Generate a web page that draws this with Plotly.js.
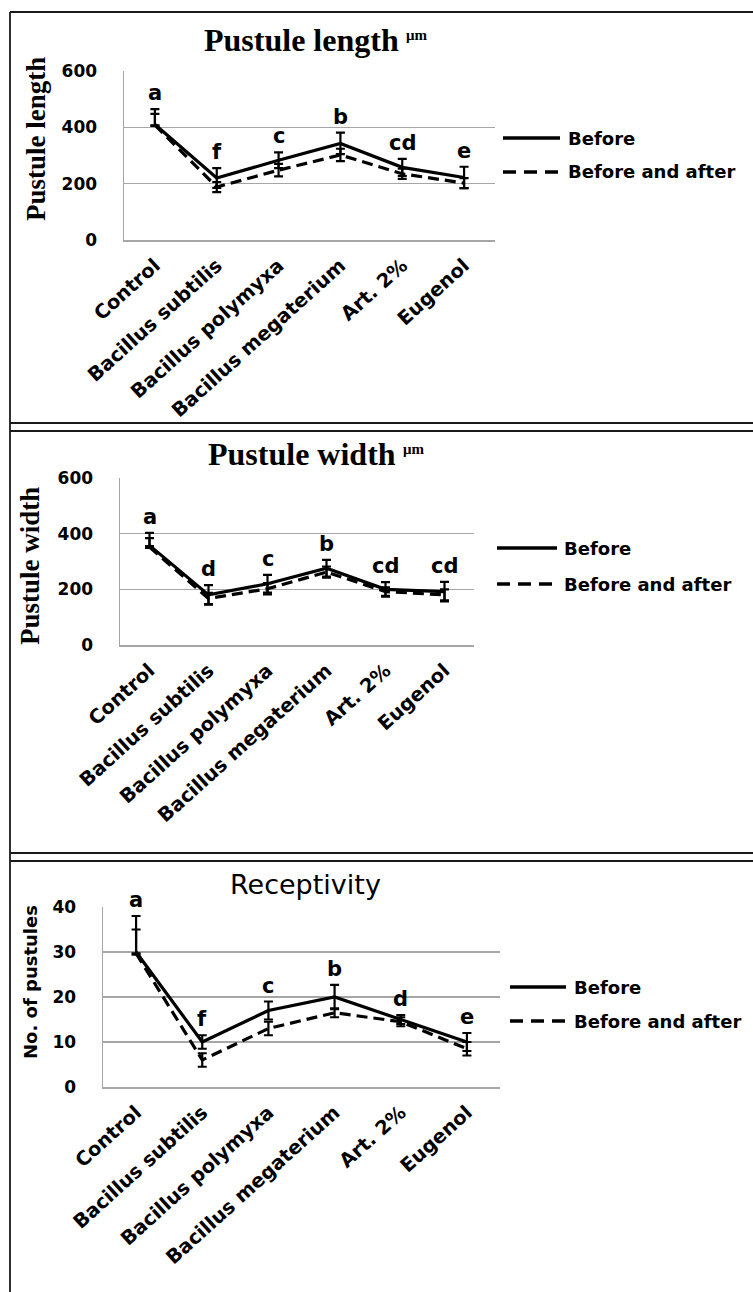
<!DOCTYPE html>
<html>
<head>
<meta charset="utf-8">
<script src="https://cdn.plot.ly/plotly-3.0.1.min.js"></script>
<style>html,body{margin:0;padding:0;background:#fff;}#chart{width:753px;height:1292px;}</style>
</head>
<body>
<div id="chart"></div>
<script>
// ---- data ----
const categories = ['Control', 'Bacillus subtilis', 'Bacillus polymyxa', 'Bacillus megaterium', 'Art. 2%', 'Eugenol'];
const seriesNames = ['Before', 'Before and after'];

const lengthBefore         = [410, 220, 283, 343, 258, 222];
const lengthBeforeErr      = [55, 35, 28, 38, 30, 38];
const lengthBeforeErrMinus = [3, 35, 28, 38, 30, 38];
const lengthAfter          = [408, 188, 248, 302, 235, 202];
const lengthAfterErr       = [40, 18, 22, 22, 18, 18];
const lengthAfterErrMinus  = [3, 18, 22, 22, 18, 18];
const lengthLetters        = ['a', 'f', 'c', 'b', 'cd', 'e'];

const widthBefore          = [358, 180, 220, 276, 200, 192];
const widthBeforeErr       = [45, 35, 32, 30, 26, 35];
const widthBeforeErrMinus  = [3, 35, 32, 30, 26, 35];
const widthAfter           = [352, 167, 202, 262, 192, 180];
const widthAfterErr        = [32, 20, 20, 20, 15, 20];
const widthAfterErrMinus   = [3, 20, 20, 20, 15, 20];
const widthLetters         = ['a', 'd', 'c', 'b', 'cd', 'cd'];

const recepBefore          = [30, 10, 17, 20, 15, 10];
const recepBeforeErr       = [8, 1.5, 2, 2.7, 1, 2];
const recepBeforeErrMinus  = [0.3, 1.5, 2, 2.7, 1, 2];
const recepAfter           = [29.7, 6, 13, 16.5, 14.5, 8.5];
const recepAfterErr        = [5.3, 1.5, 1.5, 1, 1, 1.5];
const recepAfterErrMinus   = [0.3, 1.5, 1.5, 1, 1, 1.5];
const recepLetters         = ['a', 'f', 'c', 'b', 'd', 'e'];

// ---- layout helpers ----
const W = 753, H = 1292;
const px = x => x / W;
const py = y => 1 - y / H;
const SANS = 'DejaVu Sans';
const SERIF = 'Liberation Serif';

const panels = [
  {before: lengthBefore, beforeErr: lengthBeforeErr, beforeErrMinus: lengthBeforeErrMinus,
   after: lengthAfter, afterErr: lengthAfterErr, afterErrMinus: lengthAfterErrMinus, letters: lengthLetters,
   x0: 124, x1: 495, yTop: 71, yBot: 240, range: [0, 600], dtick: 200,
   title: 'Pustule length', titleSerif: true, titleRight: 401, titleY: 40, unit: true,
   ytitle: 'Pustule length', ytitleSerif: true, ytX: 36, ytY: 139,
   leg: {lx0: 503, lx1: 560, tx: 566, y1: 138, y2: 172}},
  {before: widthBefore, beforeErr: widthBeforeErr, beforeErrMinus: widthBeforeErrMinus,
   after: widthAfter, afterErr: widthAfterErr, afterErrMinus: widthAfterErrMinus, letters: widthLetters,
   x0: 120, x1: 474, yTop: 478, yBot: 645, range: [0, 600], dtick: 200,
   title: 'Pustule width', titleSerif: true, titleRight: 398, titleY: 454, unit: true,
   ytitle: 'Pustule width', ytitleSerif: true, ytX: 30, ytY: 566,
   leg: {lx0: 497, lx1: 557, tx: 562, y1: 548, y2: 584}},
  {before: recepBefore, beforeErr: recepBeforeErr, beforeErrMinus: recepBeforeErrMinus,
   after: recepAfter, afterErr: recepAfterErr, afterErrMinus: recepAfterErrMinus, letters: recepLetters,
   x0: 103, x1: 500, yTop: 907, yBot: 1087, range: [0, 40], dtick: 10,
   title: 'Receptivity', titleSerif: false, titleCenter: 305, titleY: 884, unit: false,
   ytitle: 'No. of pustules', ytitleSerif: false, ytX: 30, ytY: 982,
   leg: {lx0: 510, lx1: 566, tx: 572, y1: 987, y2: 1021}}
];

const traces = [];
const annotations = [];
const shapes = [];
const layout = {
  width: W, height: H,
  margin: {l: 0, r: 0, t: 0, b: 0},
  paper_bgcolor: '#ffffff', plot_bgcolor: '#ffffff',
  showlegend: false,
  font: {family: SANS, color: '#000'}
};

panels.forEach((p, i) => {
  const sfx = i === 0 ? '' : String(i + 1);
  const xa = 'x' + sfx, ya = 'y' + sfx;
  layout['xaxis' + sfx] = {
    domain: [px(p.x0), px(p.x1)], anchor: ya, type: 'category',
    range: [-0.5, 5.5], showgrid: false, zeroline: false,
    showline: true, linecolor: '#a6a6a6', linewidth: 1.5,
    ticks: '', tickangle: -42, ticklabelstandoff: 5,
    tickfont: {family: SANS, size: 19.5, weight: 700, color: '#000'},
    fixedrange: true
  };
  layout['yaxis' + sfx] = {
    domain: [py(p.yBot), py(p.yTop)], anchor: xa,
    range: p.range, dtick: p.dtick, tick0: 0,
    showgrid: true, gridcolor: '#a6a6a6', gridwidth: 1.5,
    zeroline: false, showline: true, linecolor: '#a6a6a6', linewidth: 1.5,
    ticks: '', ticklabelstandoff: 22,
    tickfont: {family: SANS, size: 17, weight: 700, color: '#000'},
    fixedrange: true
  };
  // dashed series
  traces.push({
    type: 'scatter', mode: 'lines', name: seriesNames[1], x: categories, y: p.after,
    xaxis: xa, yaxis: ya,
    line: {color: '#000', width: 3.2, dash: '11px,6px'},
    error_y: {type: 'data', symmetric: false, array: p.afterErr, arrayminus: p.afterErrMinus,
              visible: true, color: '#000', thickness: 2.2, width: 4.5}
  });
  // solid series
  traces.push({
    type: 'scatter', mode: 'lines', name: seriesNames[0], x: categories, y: p.before,
    xaxis: xa, yaxis: ya,
    line: {color: '#000', width: 3.2},
    error_y: {type: 'data', symmetric: false, array: p.beforeErr, arrayminus: p.beforeErrMinus,
              visible: true, color: '#000', thickness: 2.2, width: 4.5}
  });
  // significance letters
  p.letters.forEach((t, k) => {
    annotations.push({
      xref: xa, yref: ya, x: categories[k], y: p.before[k] + p.beforeErr[k],
      text: t, showarrow: false, yanchor: 'bottom', yshift: 2,
      font: {family: SANS, size: 21, weight: 700, color: '#000'}
    });
  });
  // chart title
  if (p.titleSerif) {
    annotations.push({xref: 'paper', yref: 'paper', x: px(p.titleRight), y: py(p.titleY),
      xanchor: 'right', yanchor: 'middle', text: p.title, showarrow: false,
      font: {family: SERIF, size: 32, weight: 700, color: '#000'}});
    annotations.push({xref: 'paper', yref: 'paper', x: px(p.titleRight + 3), y: py(p.titleY - 5),
      xanchor: 'left', yanchor: 'middle', text: 'μm', showarrow: false,
      font: {family: SERIF, size: 15, weight: 700, color: '#000'}});
  } else {
    annotations.push({xref: 'paper', yref: 'paper', x: px(p.titleCenter), y: py(p.titleY),
      xanchor: 'center', yanchor: 'middle', text: p.title, showarrow: false,
      font: {family: SANS, size: 27, color: '#000'}});
  }
  // y axis title
  annotations.push({xref: 'paper', yref: 'paper', x: px(p.ytX), y: py(p.ytY),
    xanchor: 'center', yanchor: 'middle', textangle: -90, text: p.ytitle, showarrow: false,
    font: p.ytitleSerif ? {family: SERIF, size: 27, weight: 700, color: '#000'}
                        : {family: SANS, size: 18, weight: 700, color: '#000'}});
  // legend
  const L = p.leg;
  shapes.push({type: 'line', xref: 'paper', yref: 'paper', x0: px(L.lx0), x1: px(L.lx1), y0: py(L.y1), y1: py(L.y1),
    line: {color: '#000', width: 3.5}});
  shapes.push({type: 'line', xref: 'paper', yref: 'paper', x0: px(L.lx0), x1: px(L.lx1), y0: py(L.y2), y1: py(L.y2),
    line: {color: '#000', width: 3.5, dash: '13px,8px'}});
  annotations.push({xref: 'paper', yref: 'paper', x: px(L.tx), y: py(L.y1), xanchor: 'left', yanchor: 'middle',
    text: seriesNames[0], showarrow: false, font: {family: SANS, size: 18, weight: 700, color: '#000'}});
  annotations.push({xref: 'paper', yref: 'paper', x: px(L.tx), y: py(L.y2), xanchor: 'left', yanchor: 'middle',
    text: seriesNames[1], showarrow: false, font: {family: SANS, size: 18, weight: 700, color: '#000'}});
});

// frame lines
const frame = {color: '#1a1a1a', width: 1.8};
shapes.push({type: 'line', xref: 'paper', yref: 'paper', x0: px(10), x1: px(10), y0: py(12), y1: 0, line: frame});
shapes.push({type: 'line', xref: 'paper', yref: 'paper', x0: px(10), x1: 1, y0: py(12), y1: py(12), line: frame});
[423, 431, 853, 861].forEach(y => {
  shapes.push({type: 'line', xref: 'paper', yref: 'paper', x0: px(10), x1: 1, y0: py(y), y1: py(y), line: frame});
});

layout.annotations = annotations;
layout.shapes = shapes;

Plotly.newPlot('chart', traces, layout, {displayModeBar: false, staticPlot: true});
</script>
</body>
</html>
